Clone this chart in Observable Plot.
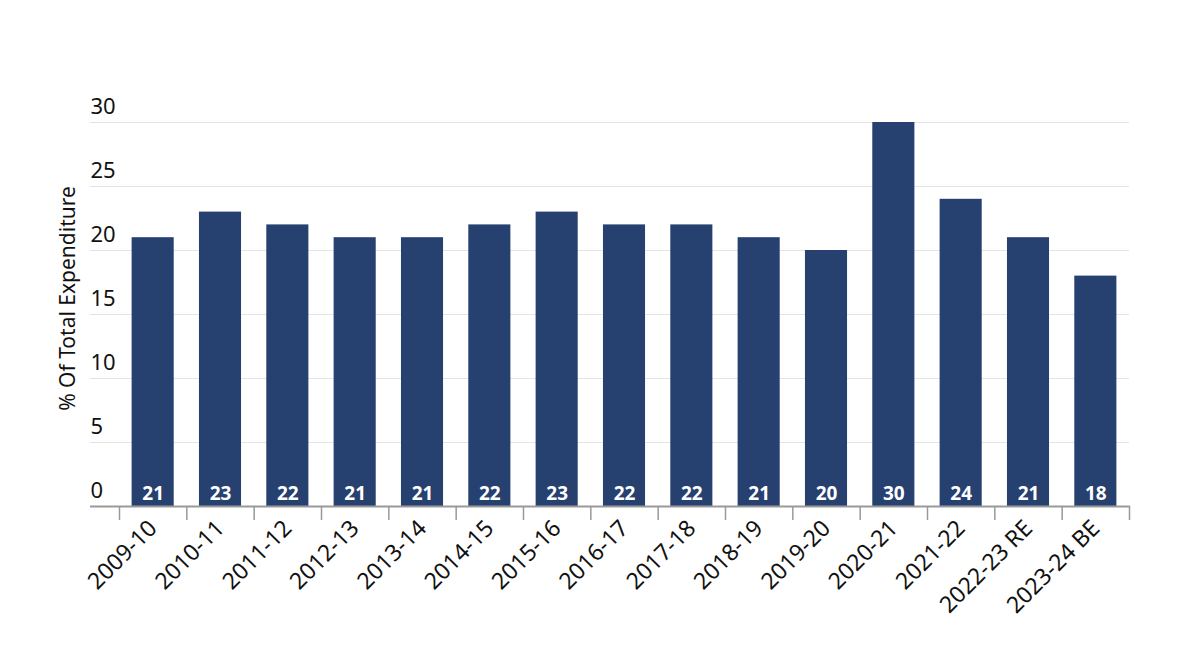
<!DOCTYPE html>
<html>
<head>
<meta charset="utf-8">
<script src="https://cdn.jsdelivr.net/npm/d3@7"></script>
<script src="https://cdn.jsdelivr.net/npm/@observablehq/plot@0.6"></script>
<style>
  html, body { margin: 0; padding: 0; background: #fff; }
  #chart svg { display: block; }
</style>
</head>
<body>
<div id="chart"></div>
<script>
const years = ["2009-10","2010-11","2011-12","2012-13","2013-14","2014-15","2015-16","2016-17","2017-18","2018-19","2019-20","2020-21","2021-22","2022-23 RE","2023-24 BE"];
const values = [21,23,22,21,21,22,23,22,22,21,20,30,24,21,18];
const yTicks = [0,5,10,15,20,25,30];
const yLabel = "% Of Total Expenditure";

const data = years.map((y, i) => ({year: y, value: values[i]}));
const FONT = "'Noto Sans', 'Open Sans', sans-serif";
const barColor = "#26406f";
const step = (1129 - 119) / years.length;

const chart = Plot.plot({
  width: 1200,
  height: 660,
  marginLeft: 119,
  marginRight: 71,
  marginTop: 122,
  marginBottom: 154,
  style: {fontFamily: FONT, background: "#fff"},
  x: {domain: years, paddingInner: 0.375, paddingOuter: 0.1875, round: false, label: null},
  y: {domain: [0, 30], label: null, axis: null},
  marks: [
    Plot.ruleY(yTicks.filter(d => d > 0), {y: d => d, stroke: "#e4e4e4", strokeWidth: 1, insetLeft: -29}),
    Plot.barY(data, {x: "year", y: "value", fill: barColor}),
    Plot.text(data, {x: "year", y: 0, text: d => String(d.value), fill: "#fff", fontWeight: "bold", fontSize: 19, dy: -13}),
    Plot.ruleY([0], {stroke: "#999", strokeWidth: 2, insetLeft: -29, insetRight: -1}),
    // tick marks at band boundaries
    Plot.ruleX(years, {x: d => d, y1: 0, y2: 0, insetBottom: -14, stroke: "#999", strokeWidth: 1.5, dx: -step / 2}),
    Plot.ruleX(years.slice(-1), {x: d => d, y1: 0, y2: 0, insetBottom: -14, stroke: "#999", strokeWidth: 1.5, dx: step / 2}),
    Plot.axisX({tickSize: 0, tickRotate: -45, fontSize: 23, tickPadding: 18, fill: "#111", label: null}),
    Plot.text(yTicks, {y: d => d, text: d => String(d), frameAnchor: "left", textAnchor: "start", dx: -29, dy: -16, fontSize: 22, fill: "#111"}),
    Plot.text([yLabel], {text: d => d, frameAnchor: "left", textAnchor: "middle", rotate: -90, dx: -51, dy: -16, fontSize: 21, fill: "#111"})
  ]
});
document.getElementById("chart").appendChild(chart);
</script>
</body>
</html>
